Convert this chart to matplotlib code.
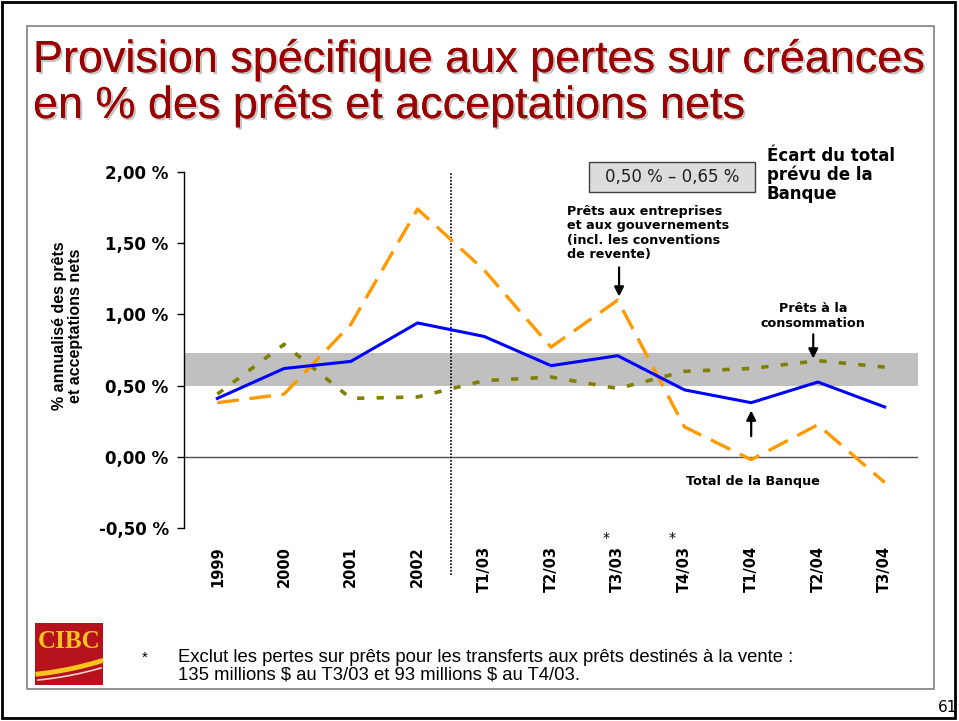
import matplotlib
matplotlib.use("Agg")
import matplotlib.pyplot as plt
import matplotlib.patheffects as pe
import matplotlib.transforms as mtransforms
from matplotlib.patches import Rectangle
import numpy as np

W, H = 959, 721

# --- data (% of net loans and acceptances) ---
periods = ["1999", "2000", "2001", "2002", "T1/03", "T2/03",
           "T3/03", "T4/03", "T1/04", "T2/04", "T3/04"]
total_banque = [0.41, 0.62, 0.67, 0.94, 0.845, 0.64, 0.71, 0.47, 0.38, 0.525, 0.35]
prets_entreprises = [0.38, 0.44, 0.93, 1.74, 1.31, 0.77, 1.10, 0.21, -0.02, 0.225, -0.18]
prets_consommation = [0.44, 0.79, 0.41, 0.42, 0.535, 0.56, 0.48, 0.60, 0.62, 0.675, 0.63]
starred = ["T3/03", "T4/03"]
band_low, band_high = 0.50, 0.73
yticks = [-0.5, 0.0, 0.5, 1.0, 1.5, 2.0]

RED = "#990000"
SANS = "Liberation Sans"


def fx(px):
    return px / W


def fy(py):
    return 1 - py / H


fig = plt.figure(figsize=(W / 100, H / 100), dpi=100)
fig.patch.set_facecolor("white")
renderer = fig.canvas.get_renderer()


def fit_width(txt, target_px):
    # shrink/grow font so the text spans about target_px
    for _ in range(3):
        w = txt.get_window_extent(renderer=renderer).width
        txt.set_fontsize(txt.get_fontsize() * target_px / w)


# frames
fig.patches.append(Rectangle((fx(2), fy(718)), fx(953), 716 / H, transform=fig.transFigure,
                             fill=False, edgecolor="black", lw=2))
fig.patches.append(Rectangle((fx(27), fy(689)), fx(907), 663 / H, transform=fig.transFigure,
                             fill=False, edgecolor="#808080", lw=1.2))

# title with shadow
title_lines = ["Provision spécifique aux pertes sur créances",
               "en % des prêts et acceptations nets"]
t1 = fig.text(fx(33), fy(72), title_lines[0], family=SANS, fontsize=30, color=RED,
              va="baseline", ha="left")
fit_width(t1, 892)
fs = t1.get_fontsize()
t2 = fig.text(fx(33), fy(118), title_lines[1], family=SANS, fontsize=fs, color=RED,
              va="baseline", ha="left")
for t in (t1, t2):
    t.set_path_effects([pe.withSimplePatchShadow(offset=(1.5, -1.5),
                                                 shadow_rgbFace="#c4c4c4", alpha=1),
                        pe.Normal()])

ax = fig.add_axes([fx(184), fy(528), (918 - 184) / W, (528 - 172) / H])
x = np.arange(len(periods)) + 0.5
ax.set_xlim(0, len(periods))
ax.set_ylim(-0.5, 2.0)

ax.axhspan(band_low, band_high, color="#c0c0c0", lw=0, zorder=0)
ax.axhline(0, color="#505050", lw=1, zorder=1)

ax.plot(x, prets_consommation, color="#808000", lw=2.6, dashes=(2.0, 3.4), zorder=3)
ax.plot(x, prets_entreprises, color="#ff9900", lw=2.4, dashes=(6.5, 3.2), zorder=3)
ax.plot(x, total_banque, color="#0000ff", lw=2.2, zorder=4)

for s in ["top", "right", "bottom"]:
    ax.spines[s].set_visible(False)
ax.spines["left"].set_linewidth(1)

ax.set_yticks(yticks)
ax.set_yticklabels([f"{v:.2f}".replace(".", ",") + " %" for v in yticks],
                   family="DejaVu Sans", fontweight="bold", fontsize=12)
ax.tick_params(axis="y", direction="out", length=5, width=1, pad=6)
ax.set_xticks(x)
ax.set_xticklabels(periods, rotation=90, family="DejaVu Sans", fontweight="bold", fontsize=10.5)
ax.tick_params(axis="x", length=0, pad=13)

blend = mtransforms.blended_transform_factory(ax.transData, ax.transAxes)
ax.plot([4, 4], [-0.132, 1.0], transform=blend, color="black", lw=1.2,
        linestyle=(0, (1, 1)), clip_on=False)
for p in starred:
    i = periods.index(p)
    ax.text(x[i] - 0.18, -0.028, "*", transform=blend, ha="center", va="center",
            fontsize=10, family="DejaVu Sans")

ax.set_ylabel("% annualisé des prêts\net acceptations nets", family=SANS,
              fontweight="bold", fontsize=11.5, linespacing=1.05)
ax.yaxis.set_label_coords(-0.138, 0.567)

# annotations
ann = dict(family="DejaVu Sans", fontweight="bold", fontsize=9.2, color="black")
arrow = dict(arrowstyle="-|>", color="black", lw=1.6, mutation_scale=14, shrinkA=0, shrinkB=0)
ax.text(5.74, 1.77, "Prêts aux entreprises\net aux gouvernements\n(incl. les conventions\nde revente)",
        ha="left", va="top", linespacing=1.15, **ann)
ax.annotate("", xy=(6.52, 1.125), xytext=(6.52, 1.33), arrowprops=arrow)
ax.text(9.43, 1.085, "Prêts à la\nconsommation", ha="center", va="top", linespacing=1.15, **ann)
ax.annotate("", xy=(9.43, 0.69), xytext=(9.43, 0.86), arrowprops=arrow)
ax.text(7.52, -0.176, "Total de la Banque", ha="left", va="center", **ann)
ax.annotate("", xy=(8.5, 0.325), xytext=(8.5, 0.145), arrowprops=arrow)

# range box
fig.patches.append(Rectangle((fx(589), fy(192)), (755 - 589) / W, 30 / H, transform=fig.transFigure,
                             facecolor="#dcdcdc", edgecolor="#404040", lw=1))
fig.text(fx(672), fy(177), "0,50 % – 0,65 %", ha="center", va="center",
         family="DejaVu Sans", fontsize=12, color="#202020")
fig.text(fx(767), fy(147), "Écart du total\nprévu de la\nBanque", ha="left", va="top",
         family="DejaVu Sans", fontweight="bold", fontsize=12, linespacing=1.05)

# logo
fig.patches.append(Rectangle((fx(35), fy(685)), 68 / W, 62 / H, transform=fig.transFigure,
                             facecolor="#b5121b", edgecolor="none"))
fig.text(fx(69), fy(642), "CIBC", ha="center", va="center", family="Liberation Serif",
         fontsize=18, fontweight="bold", color="#f7c51e")
t = np.linspace(0, 1, 30)
fig.lines.append(plt.Line2D(fx(38 + 63 * t), fy(674 - 13 * t + 6 * t * (1 - t)),
                            transform=fig.transFigure, color="#f7c51e", lw=3.5))
fig.lines.append(plt.Line2D(fx(38 + 63 * t), fy(680 - 12 * t + 6 * t * (1 - t)),
                            transform=fig.transFigure, color="#f2d0d0", lw=1.2))

# footnote
fig.text(fx(145), fy(658), "*", ha="center", va="center", family=SANS, fontsize=11)
f1 = fig.text(fx(178), fy(657),
              "Exclut les pertes sur prêts pour les transferts aux prêts destinés à la vente :",
              ha="left", va="center", family=SANS, fontsize=11, parse_math=False)
fit_width(f1, 615)
fig.text(fx(178), fy(675), "135 millions $ au T3/03 et 93 millions $ au T4/03.",
         ha="left", va="center", family=SANS, fontsize=f1.get_fontsize(), parse_math=False)
fig.text(fx(957), fy(708), "61", ha="right", va="center", family="DejaVu Sans", fontsize=11)

fig.savefig("out.png", dpi=100)
